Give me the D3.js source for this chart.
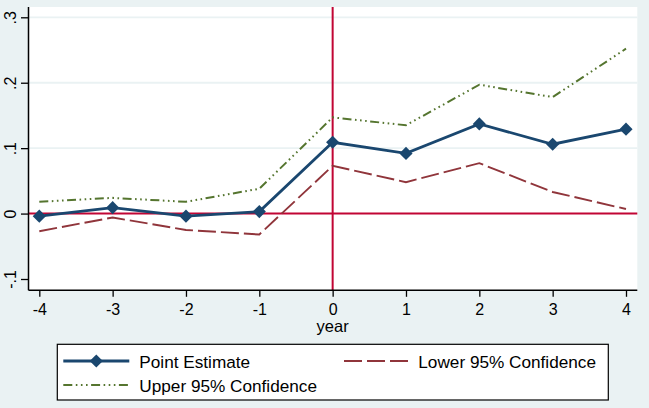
<!DOCTYPE html>
<html>
<head>
<meta charset="utf-8">
<script src="https://cdn.jsdelivr.net/npm/d3@7"></script>
<style>
  html, body { margin: 0; padding: 0; background: #eaf2f3; }
  svg { display: block; font-family: "Liberation Sans", Arial, sans-serif; }
</style>
</head>
<body>
<div id="chart"></div>
<script>
// data
let years = [-4, -3, -2, -1, 0, 1, 2, 3, 4];
let pointEst = [-0.004, 0.009, -0.004, 0.003, 0.109, 0.092, 0.137, 0.106, 0.129];
let lower95 = [-0.027, -0.006, -0.025, -0.032, 0.073, 0.048, 0.077, 0.033, 0.007];
let upper95 = [0.018, 0.024, 0.018, 0.038, 0.147, 0.135, 0.197, 0.178, 0.252];
let yTicks = [-0.1, 0, 0.1, 0.2, 0.3];
let yTickLabels = ["-.1", "0", ".1", ".2", ".3"];
let gridTicks = [0.1, 0.2, 0.3];

let svgWidth = 649;
let svgHeight = 408;

// plot region edges
let plot = { left: 28.5, top: 7, right: 637.3, bottom: 290.3 };

let svg = d3.select("#chart")
    .append("svg")
    .attr("width", svgWidth)
    .attr("height", svgHeight);

svg.append("rect")
    .attr("width", svgWidth)
    .attr("height", svgHeight)
    .attr("fill", "#eaf2f3");

let xScale = d3.scaleLinear()
    .domain([-4, 4])
    .range([39.3, 626]);

let yScale = d3.scaleLinear()
    .domain([-0.1, 0.3])
    .range([279, 17.3]);

// white plot area
svg.append("rect")
    .attr("x", plot.left)
    .attr("y", plot.top)
    .attr("width", plot.right - plot.left)
    .attr("height", plot.bottom - plot.top)
    .attr("fill", "#ffffff");

// gridlines
svg.selectAll(".grid")
    .data(gridTicks)
    .enter()
    .append("line")
    .attr("x1", plot.left)
    .attr("x2", plot.right)
    .attr("y1", d => yScale(d))
    .attr("y2", d => yScale(d))
    .attr("stroke", "#eaf2f3")
    .attr("stroke-width", 1.8);

// reference lines
let refColor = "#c10534";
svg.append("line")
    .attr("x1", plot.left)
    .attr("x2", plot.right)
    .attr("y1", yScale(0))
    .attr("y2", yScale(0))
    .attr("stroke", refColor)
    .attr("stroke-width", 2);

svg.append("line")
    .attr("x1", xScale(0))
    .attr("x2", xScale(0))
    .attr("y1", plot.top)
    .attr("y2", plot.bottom)
    .attr("stroke", refColor)
    .attr("stroke-width", 2);

// axes
let xAxis = d3.axisBottom(xScale)
    .tickValues(years)
    .tickSize(6.5)
    .tickSizeOuter(0)
    .tickFormat(d => String(d));

let yAxis = d3.axisLeft(yScale)
    .tickValues(yTicks)
    .tickSize(7.5)
    .tickSizeOuter(0)
    .tickFormat((d, i) => yTickLabels[i]);

let xg = svg.append("g")
    .attr("transform", `translate(0, ${plot.bottom})`)
    .call(xAxis);
xg.select(".domain").attr("d", `M${plot.left},0H${plot.right}`).attr("stroke", "#000").attr("stroke-width", 1.5);
xg.selectAll(".tick line").attr("stroke", "#000").attr("stroke-width", 1.3);
xg.selectAll(".tick text")
    .attr("font-size", 16)
    .attr("fill", "#000")
    .attr("y", 25.2)
    .attr("dy", null);

let yg = svg.append("g")
    .attr("transform", `translate(${plot.left}, 0)`)
    .call(yAxis);
yg.select(".domain").attr("d", `M0,${plot.top}V${plot.bottom}`).attr("stroke", "#000").attr("stroke-width", 1.5);
yg.selectAll(".tick line").attr("stroke", "#000").attr("stroke-width", 1.3);
yg.selectAll(".tick text")
    .attr("font-size", 16)
    .attr("fill", "#000")
    .attr("x", null)
    .attr("dy", null)
    .attr("text-anchor", "middle")
    .attr("transform", "translate(-13,0) rotate(-90)");

svg.append("text")
    .attr("x", xScale(0))
    .attr("y", 332)
    .attr("text-anchor", "middle")
    .attr("font-size", 16.5)
    .attr("fill", "#000")
    .text("year");

// series lines
let series = [
    { name: "Lower 95% Confidence", values: lower95, color: "#90353b", dash: "18,5", width: 1.9 },
    { name: "Upper 95% Confidence", values: upper95, color: "#55752f", dash: "9,3.5,1.6,3.5,1.6,3.5,1.6,3.5", width: 2 },
    { name: "Point Estimate", values: pointEst, color: "#1a476f", dash: null, width: 2.8 }
];

let line = d3.line()
    .x((d, i) => xScale(years[i]))
    .y(d => yScale(d));

series.forEach(function (s) {
    svg.append("path")
        .datum(s.values)
        .attr("d", line)
        .attr("fill", "none")
        .attr("stroke", s.color)
        .attr("stroke-width", s.width)
        .attr("stroke-dasharray", s.dash);
});

let diamond = d3.symbol().type(d3.symbolDiamond2).size(110);

svg.selectAll(".marker")
    .data(pointEst)
    .enter()
    .append("path")
    .attr("d", diamond)
    .attr("transform", (d, i) => `translate(${xScale(years[i])}, ${yScale(d)})`)
    .attr("fill", "#1a476f");

// legend
let legend = svg.append("g");
legend.append("rect")
    .attr("x", 57.3)
    .attr("y", 344.3)
    .attr("width", 608.3 - 57.3)
    .attr("height", 400 - 344.3)
    .attr("fill", "#ffffff")
    .attr("stroke", "#000")
    .attr("stroke-width", 1.2);

let legendItems = [
    { s: series[2], x1: 63.3, x2: 129.3, y: 361, tx: 139.3, ty: 368.3, marker: true },
    { s: series[0], x1: 344, x2: 409.3, y: 361, tx: 418.3, ty: 368.3, marker: false },
    { s: series[1], x1: 63.3, x2: 129.3, y: 385, tx: 139.3, ty: 391.5, marker: false }
];

legendItems.forEach(function (it) {
    legend.append("line")
        .attr("x1", it.x1)
        .attr("x2", it.x2)
        .attr("y1", it.y)
        .attr("y2", it.y)
        .attr("stroke", it.s.color)
        .attr("stroke-width", it.s.width)
        .attr("stroke-dasharray", it.s.dash);
    if (it.marker) {
        legend.append("path")
            .attr("d", diamond)
            .attr("transform", `translate(${(it.x1 + it.x2) / 2}, ${it.y})`)
            .attr("fill", it.s.color);
    }
    legend.append("text")
        .attr("x", it.tx)
        .attr("y", it.ty)
        .attr("font-size", 17.2)
        .attr("fill", "#000")
        .text(it.s.name);
});
</script>
</body>
</html>
